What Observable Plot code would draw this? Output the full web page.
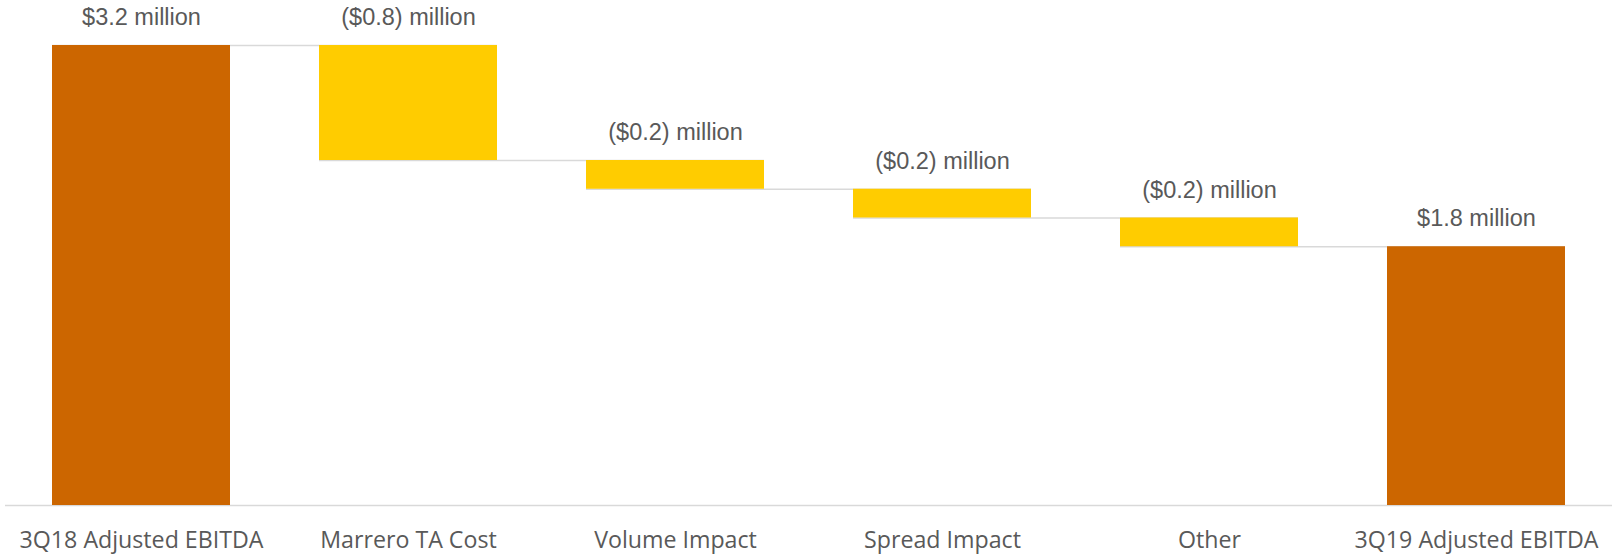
<!DOCTYPE html>
<html><head><meta charset="utf-8">
<script src="https://cdn.jsdelivr.net/npm/d3@7"></script>
<script src="https://cdn.jsdelivr.net/npm/@observablehq/plot@0.6"></script>
<style>body{margin:0;background:#fff;overflow:hidden}</style>
</head><body><div id="chart"></div>
<script>
const categories = ["3Q18 Adjusted EBITDA","Marrero TA Cost","Volume Impact","Spread Impact","Other","3Q19 Adjusted EBITDA"];
const values = [3.2, -0.8, -0.2, -0.2, -0.2, 1.8];
const isTotal = [true, false, false, false, false, true];
const valueLabels = ["$3.2 million","($0.8) million","($0.2) million","($0.2) million","($0.2) million","$1.8 million"];
const colors = {total: "#CC6600", change: "#FFCC00"};

let cum = 0;
const bars = categories.map((c, i) => {
  let y1, y2;
  if (isTotal[i]) { y1 = 0; y2 = values[i]; cum = values[i]; }
  else { y1 = cum; y2 = cum + values[i]; cum = y2; }
  return {cat: c, y1, y2, top: Math.max(y1, y2), end: cum, fill: isTotal[i] ? colors.total : colors.change, label: valueLabels[i]};
});
const connectors = bars.slice(0, -1).map((b, i) => ({from: b.cat, to: bars[i + 1].cat, level: b.end}));

const chart = Plot.plot({
  width: 1612, height: 557,
  marginLeft: 5, marginRight: 0, marginTop: 45, marginBottom: 52,
  style: {background: "#fff", color: "#595959"},
  x: {domain: categories, paddingInner: 0.334, paddingOuter: 0.167, label: null},
  y: {domain: [0, 3.2], axis: null},
  color: {type: "identity"},
  marks: [
    Plot.ruleY(connectors, {x1: "from", x2: "to", y: "level", stroke: "#d9d9d9", strokeWidth: 1.5}),
    Plot.ruleY([0], {stroke: "#d9d9d9", strokeWidth: 1.5}),
    Plot.barY(bars, {x: "cat", y1: "y1", y2: "y2", fill: "fill"}),
    Plot.text(bars, {x: "cat", y: "top", text: "label", dy: -28, fontSize: 23.5, fill: "#595959", fontFamily: "'Liberation Sans', Arial, sans-serif"}),
    Plot.axisX({tickSize: 0, tickPadding: 26, fontSize: 23.2, fontFamily: "'Open Sans', sans-serif", fill: "#595959", label: null})
  ]
});
document.getElementById("chart").append(chart);
</script>
</body></html>
